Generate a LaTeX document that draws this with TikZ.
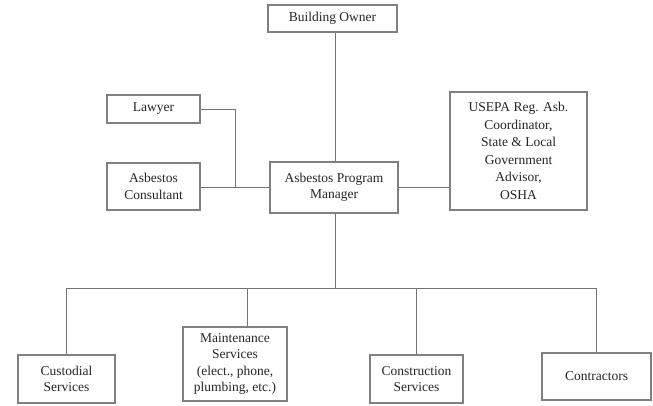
\documentclass[tikz,border=0pt]{standalone}
\usepackage{fontspec}
\setmainfont{Liberation Serif}
\begin{document}
\begin{tikzpicture}[x=1pt,y=-1pt,
  box/.style={draw=black!50, line width=1.1pt, fill=white, inner sep=0pt, align=center,
    font=\fontsize{13.5}{16.5}\selectfont, text=black!85},
  conn/.style={draw=black!55, line width=0.9pt}]
\useasboundingbox[fill=white] (0,0) rectangle (653,406);
% boxes: centre, width, height
\node[box, minimum width=129pt, minimum height=27pt] (owner) at (332.5,18.5) {Building Owner};
\node[box, minimum width=93pt, minimum height=28pt] (lawyer) at (153.5,109) {Lawyer};
\node[box, minimum width=93pt, minimum height=47pt] (consult) at (153.5,186.5) {Asbestos\\Consultant};
\node[box, minimum width=128pt, minimum height=51pt] (mgr) at (334,187.5) {Asbestos Program\\Manager};
\node[box, minimum width=137pt, minimum height=118pt, font=\fontsize{13.5}{17.5}\selectfont] (usepa) at (518.5,151) {USEPA Reg. Asb.\\Coordinator,\\State \& Local\\Government\\Advisor,\\OSHA};
\node[box, minimum width=97pt, minimum height=48pt] (cust) at (66.5,379) {Custodial\\Services};
\node[box, minimum width=104pt, minimum height=74pt] (maint) at (235,364) {Maintenance\\Services\\(elect., phone,\\plumbing, etc.)};
\node[box, minimum width=93pt, minimum height=48pt] (constr) at (416.5,379) {Construction\\Services};
\node[box, minimum width=109pt, minimum height=47pt] (contr) at (596.5,376.5) {Contractors};
% junction coordinates
\coordinate (lj) at (235,109);
\coordinate (hb) at (335,288);
\coordinate (j1) at (66.5,288);
\coordinate (j2) at (247,288);
\coordinate (j3) at (416.5,288);
\coordinate (j4) at (596.5,288);
% connectors
\draw[conn] (owner.south -| hb) -- (mgr.north -| hb);
\draw[conn] (lawyer.east) -- (lj) -- (lj |- mgr.west);
\draw[conn] (consult.east |- mgr.west) -- (mgr.west);
\draw[conn] (mgr.east) -- (mgr.east -| usepa.west);
\draw[conn] (mgr.south -| hb) -- (hb);
\draw[conn] (j1) -- (j4);
\draw[conn] (j1) -- (cust.north);
\draw[conn] (j2) -- (j2 |- maint.north);
\draw[conn] (j3) -- (constr.north);
\draw[conn] (j4) -- (contr.north);
\end{tikzpicture}
\end{document}
